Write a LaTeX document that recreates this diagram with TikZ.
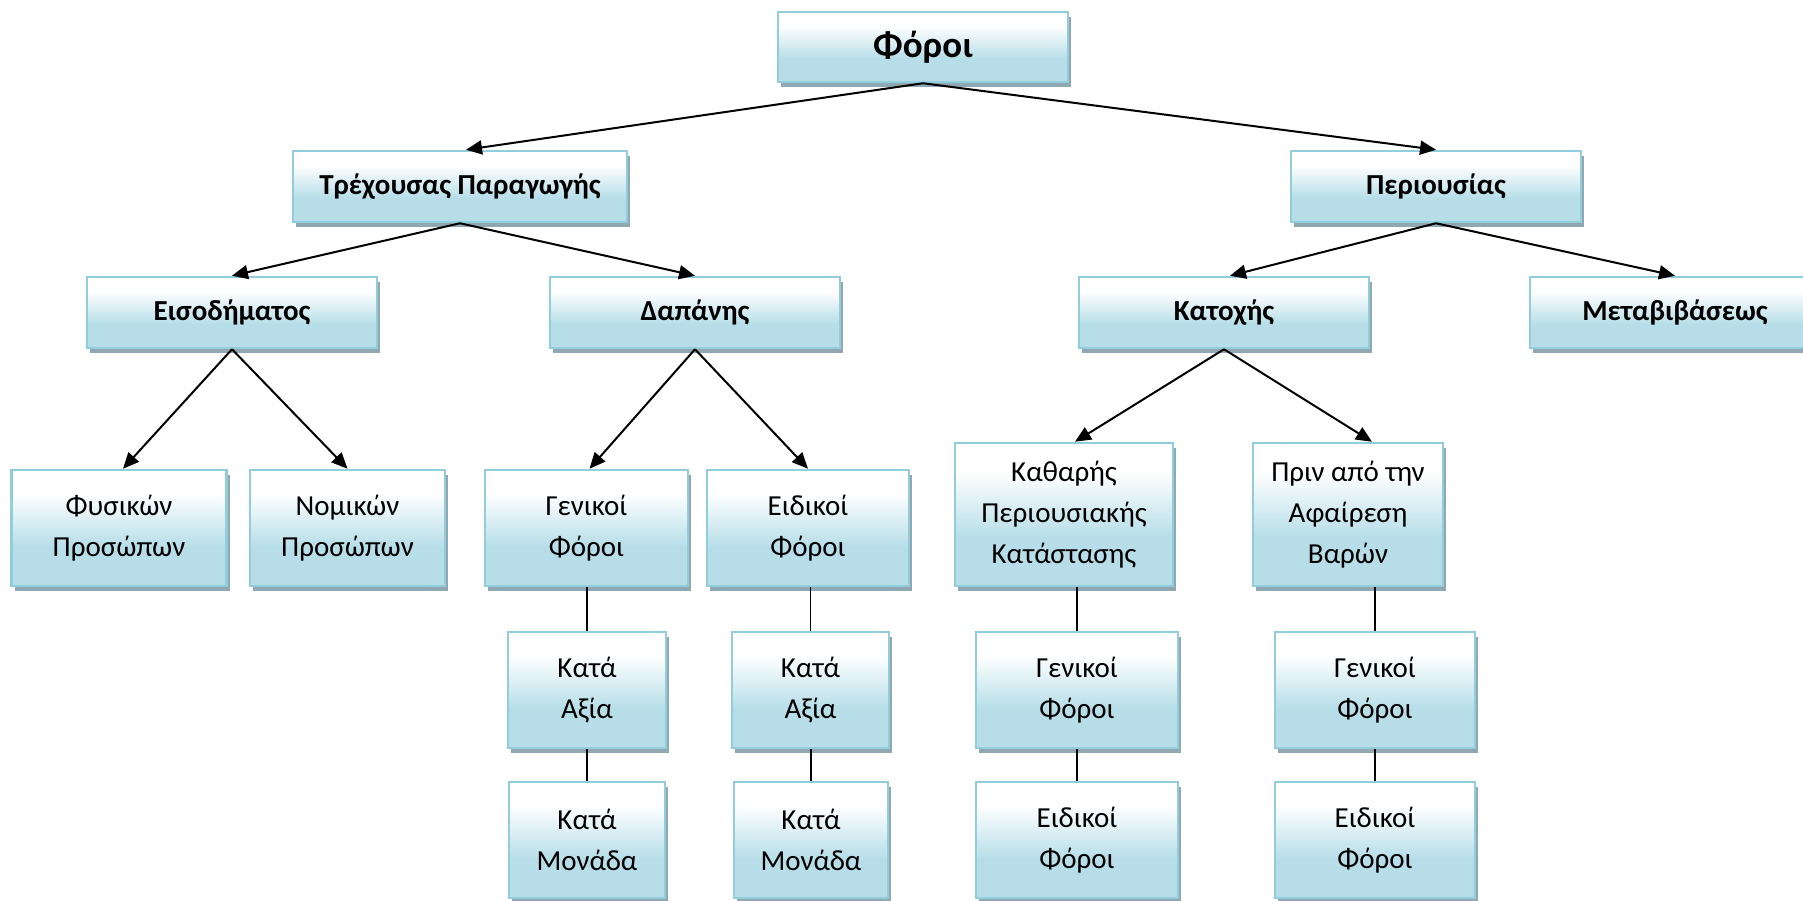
\documentclass[tikz,border=0pt]{standalone}
\usepackage{fontspec}
\setmainfont{Carlito}
\usetikzlibrary{arrows.meta,shadows,calc}

\definecolor{boxline}{RGB}{146,205,220}
\definecolor{boxfill}{RGB}{183,222,232}
\definecolor{boxshadow}{RGB}{143,168,178}

% white at the top, fading into pale aqua towards the bottom
\pgfdeclareverticalshading{aquafade}{100bp}{%
  color(0bp)=(boxfill); color(42bp)=(boxfill);
  color(65bp)=(white); color(100bp)=(white)}

\tikzset{
  box/.style={draw=boxline, line width=2.5pt, shading=aquafade,
    drop shadow={shadow xshift=3pt, shadow yshift=-5pt, fill=boxshadow, opacity=1},
    inner sep=0pt, align=center, text=black},
  head/.style={box, font=\bfseries\fontsize{37}{44}\selectfont},
  cat/.style={box, font=\bfseries\fontsize{29}{34}\selectfont},
  leaf/.style={box, font=\fontsize{29}{41}\selectfont},
  arr/.style={line width=2pt, -{Triangle[length=16pt,width=14pt]}},
  link/.style={line width=1.6pt}
}

\begin{document}
\begin{tikzpicture}[x=1pt,y=-1pt]
\useasboundingbox (0,0) rectangle (1803,900);

% top
\node[head, minimum width=290pt, minimum height=70pt] (foroi) at (923,47) {Φόροι};

% second level
\node[cat, minimum width=334pt, minimum height=71pt] (trex) at (460,186.5) {Τρέχουσας Παραγωγής};
\node[cat, minimum width=290pt, minimum height=71pt] (peri) at (1436,186.5) {Περιουσίας};

% third level
\node[cat, minimum width=290pt, minimum height=71pt] (eisod) at (232,312.5) {Εισοδήματος};
\node[cat, minimum width=290pt, minimum height=71pt] (dapan) at (695,312.5) {Δαπάνης};
\node[cat, minimum width=290pt, minimum height=71pt] (katox) at (1224,312.5) {Κατοχής};
\node[cat, minimum width=290pt, minimum height=71pt] (metab) at (1675,312.5) {Μεταβιβάσεως};

% fourth level
\node[leaf, minimum width=215pt, minimum height=116pt] (fys) at (119,528) {Φυσικών\\Προσώπων};
\node[leaf, minimum width=195pt, minimum height=116pt] (nom) at (347.5,528) {Νομικών\\Προσώπων};
\node[leaf, minimum width=203pt, minimum height=116pt] (gena) at (586.5,528) {Γενικοί\\Φόροι};
\node[leaf, minimum width=202pt, minimum height=116pt] (eida) at (808,528) {Ειδικοί\\Φόροι};
\node[leaf, minimum width=218pt, minimum height=143pt] (kath) at (1064,514.5) {Καθαρής\\Περιουσιακής\\Κατάστασης};
\node[leaf, minimum width=190pt, minimum height=143pt] (prin) at (1348,514.5) {Πριν από την\\Αφαίρεση\\Βαρών};

% fifth level
\node[leaf, minimum width=158pt, minimum height=116pt] (axa) at (587,690) {Κατά\\Αξία};
\node[leaf, minimum width=157pt, minimum height=116pt] (axb) at (810.5,690) {Κατά\\Αξία};
\node[leaf, minimum width=202pt, minimum height=116pt] (genb) at (1077,690) {Γενικοί\\Φόροι};
\node[leaf, minimum width=200pt, minimum height=116pt] (genc) at (1375,690) {Γενικοί\\Φόροι};

% sixth level
\node[leaf, minimum width=156pt, minimum height=116pt] (mona) at (587,840) {Κατά\\Μονάδα};
\node[leaf, minimum width=154pt, minimum height=116pt] (monb) at (811,840) {Κατά\\Μονάδα};
\node[leaf, minimum width=202pt, minimum height=116pt] (eidb) at (1077,840) {Ειδικοί\\Φόροι};
\node[leaf, minimum width=200pt, minimum height=116pt] (eidc) at (1375,840) {Ειδικοί\\Φόροι};

% arrows
\draw[arr] (foroi.south) -- ($(trex.north)+(6,0)$);
\draw[arr] (foroi.south) -- (peri.north);
\draw[arr] (trex.south) -- (eisod.north);
\draw[arr] (trex.south) -- (dapan.north);
\draw[arr] (peri.south) -- ($(katox.north)+(6,0)$);
\draw[arr] (peri.south) -- (metab.north);
\draw[arr] (eisod.south) -- ($(fys.north)+(4,0)$);
\draw[arr] (eisod.south) -- (nom.north);
\draw[arr] (dapan.south) -- ($(gena.north)+(3,0)$);
\draw[arr] (dapan.south) -- (eida.north);
\draw[arr] (katox.south) -- ($(kath.north)+(11,0)$);
\draw[arr] (katox.south) -- ($(prin.north)+(24,0)$);

% plain links
\draw[link] (axa.north) -- (axa.north |- gena.south);
\draw[link] (axb.north) -- (axb.north |- eida.south);
\draw[link] (mona.north) -- (mona.north |- axa.south);
\draw[link] (monb.north) -- (monb.north |- axb.south);
\draw[link] (genb.north) -- (genb.north |- kath.south);
\draw[link] (genc.north) -- (genc.north |- prin.south);
\draw[link] (eidb.north) -- (eidb.north |- genb.south);
\draw[link] (eidc.north) -- (eidc.north |- genc.south);
\end{tikzpicture}
\end{document}
